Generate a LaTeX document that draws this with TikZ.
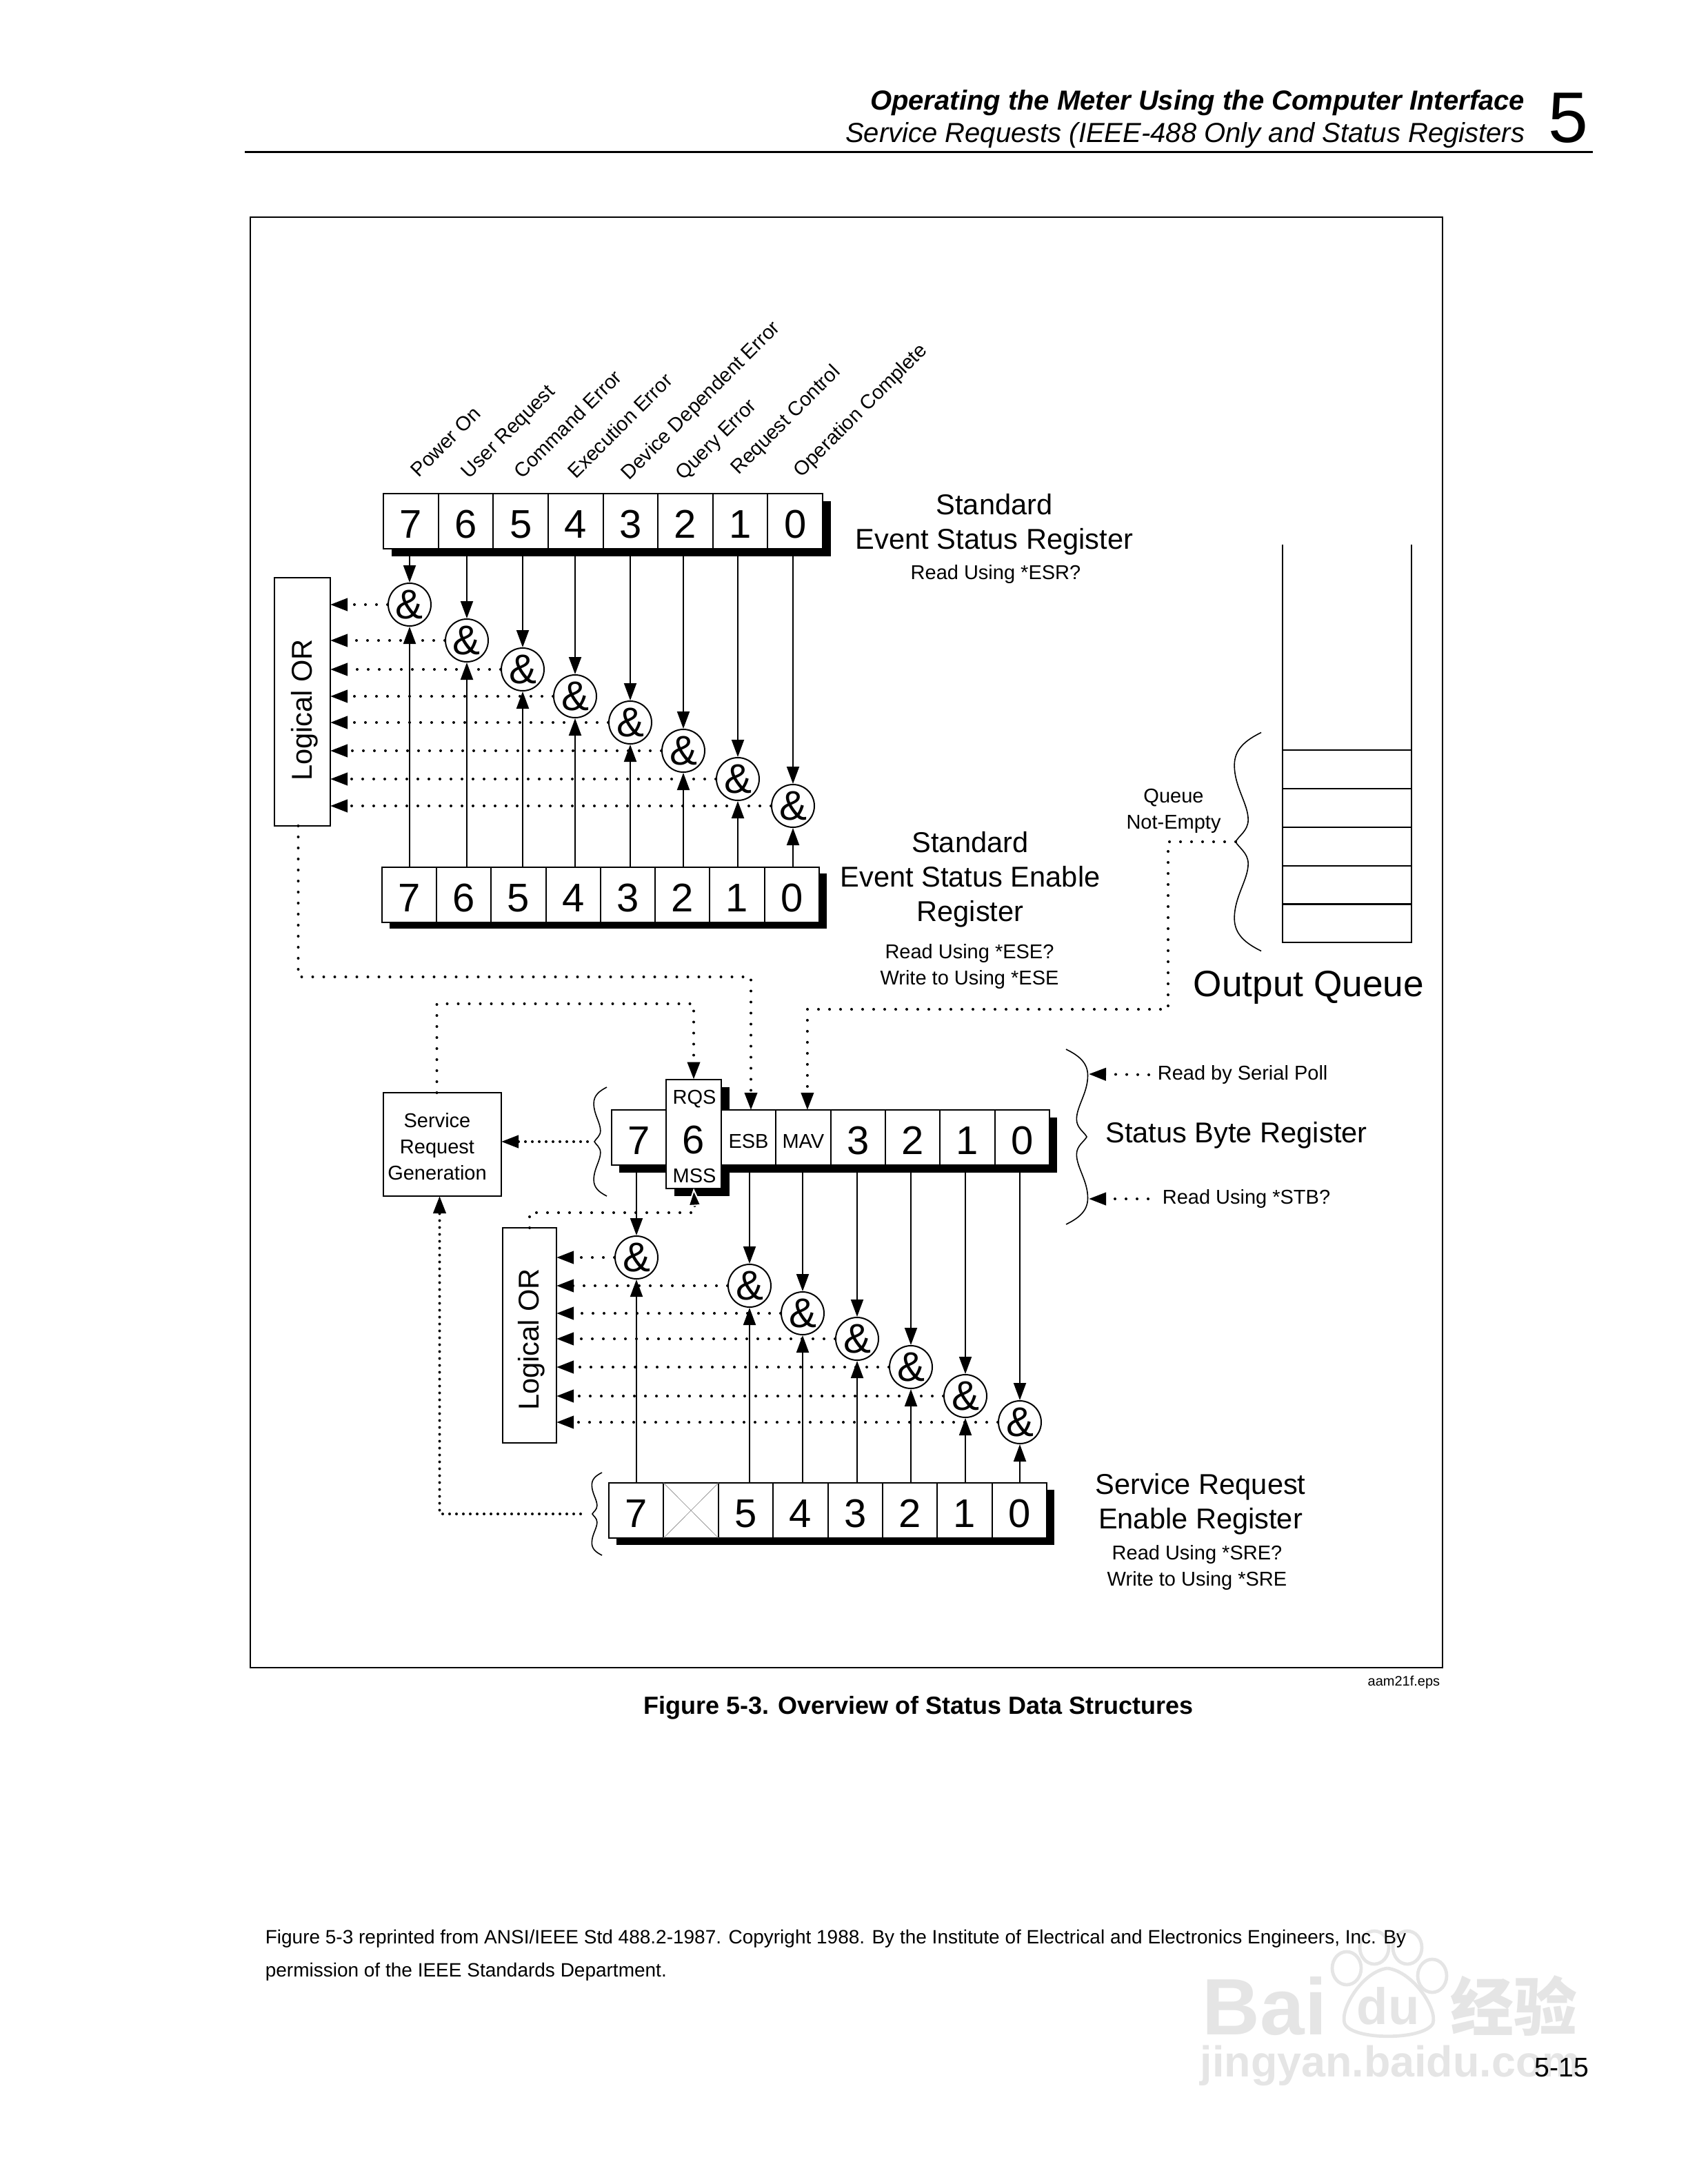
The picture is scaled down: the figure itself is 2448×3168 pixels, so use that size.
\documentclass[tikz,border=0pt]{standalone}
\usepackage{fontspec}
\setmainfont{Liberation Sans}
\newfontfamily\cjkfont{Noto Sans CJK SC}
\usetikzlibrary{positioning, arrows.meta, shapes.geometric, fit, calc, backgrounds}
\tikzset{
  % Register bits
  bitcell/.style={
    draw, rectangle, line width=0.5pt, fill=white,
    minimum width=19.9pt, minimum height=20pt,
    inner sep=0pt, outer sep=0pt, text height=12pt, text depth=0pt,
    font=\fontsize{14.5}{16}\selectfont
  },
  regshadow/.style={
    draw=none, fill=black, inner sep=0pt, outer sep=0pt
  },
  % AND gates
  andgate/.style={
    draw, circle, line width=0.5pt, fill=white,
    minimum size=15.5pt, inner sep=0pt,
    font=\fontsize{15}{16}\selectfont
  },
  % Boxes
  orbox/.style={
    draw, rectangle, line width=0.5pt, fill=white,
    inner sep=0pt, outer sep=0pt
  },
  queuecell/.style={
    draw, rectangle, line width=0.5pt,
    minimum width=46.75pt, minimum height=14pt,
    inner sep=0pt, outer sep=0pt
  },
  % Solid and dotted connectors
  sigline/.style={
    -{Triangle[length=6.25pt,width=4.5pt]}, line width=0.5pt
  },
  dotline/.style={
    -{Triangle[length=6.25pt,width=4.5pt]}, line width=1pt,
    line cap=round, dash pattern=on 0pt off 4pt
  },
  densedot/.style={
    dotline, dash pattern=on 0pt off 2.5pt
  },
  halotip/.style={
    -{Triangle[length=6.5pt,width=5pt,fill=black,color=white,line width=0.5pt]}
  },
  bracelin/.style={line width=0.4pt},
  % Texts
  smalltext/.style={align=center, inner sep=0pt, font=\fontsize{7.25}{9.5}\selectfont},
  bigtext/.style={align=center, inner sep=0pt, font=\fontsize{10.4}{12.5}\selectfont},
  slanted/.style={smalltext, rotate=45, anchor=base west},
  watermark/.style={inner sep=0pt, text=black!10, font=\bfseries},
}
\newcommand{\smallbit}[1]{\raisebox{2.15pt}{\fontsize{7.25}{9}\selectfont #1}}
\newcommand{\bitrow}[5]{%
  \foreach \bit/\txt [count=\i from 0] in {#5} {
    \node[bitcell] (#1\bit) at ({#2+\i*#4},#3) {\txt};
  }
}
\newcommand{\andlinks}[4]{%
  \draw[sigline] (#1 |- #2.south) -- (#1);
  \draw[sigline] (#1 |- #3.north) -- (#1);
  \draw[dotline] (#1) -- (#1 -| #4.east);
}
\newcommand{\wavybrace}[4]{%
  \begin{scope}[shift={(#2)}, xscale=#3, yscale=#4]
    \draw[bracelin] (1,-1) .. controls (.4,-.93) and (-.05,-.85) .. (-.05,-.7)
      .. controls (-.05,-.5) and (.49,-.35) .. (.49,-.2)
      .. controls (.49,-.1) and (.1,-.05) .. (0,0)
      .. controls (.1,.05) and (.49,.1) .. (.49,.2)
      .. controls (.49,.35) and (-.05,.5) .. (-.05,.7)
      .. controls (-.05,.85) and (.4,.93) .. (1,1);
    \coordinate (#1) at (0,0);
  \end{scope}
}

\begin{document}
\begin{tikzpicture}[x=0.25pt, y=-0.25pt]
  \useasboundingbox (0,0) rectangle (2448,3168);

  %% ── Watermark ──
  \node[watermark, font=\bfseries\fontsize{29}{30}\selectfont, anchor=base west] (wmbai) at (1743,2951) {Bai};
  \node[watermark, font=\bfseries\fontsize{18.6}{20}\selectfont, anchor=base west] (wmdu) at (1967,2936) {du};
  \node[watermark, font=\cjkfont\bfseries\fontsize{23}{24}\selectfont] (wmcjk) at (2195,2909) {经验};
  \node[watermark, font=\bfseries\fontsize{15.7}{18}\selectfont, anchor=base west] (wmurl) at (1740,3012) {jingyan.baidu.com};
  \draw[black!10, line width=1.2pt] (1953,2855) ellipse (21 and 24) (1993,2825) ellipse (21 and 24)
    (2041,2825) ellipse (21 and 24) (2077,2866) ellipse (21 and 24);
  \draw[black!10, line width=1.2pt] (2012,2855) .. controls (1975,2860) and (1943,2915) .. (1950,2935)
    .. controls (1960,2960) and (2065,2960) .. (2078,2935) .. controls (2085,2915) and (2050,2860) .. (2012,2855);

  %% ── Page header and frame ──
  \node[anchor=base east, inner sep=0pt, font=\bfseries\itshape\fontsize{10}{12}\selectfont] (headA) at (2212,160) {Operating the Meter Using the Computer Interface};
  \node[anchor=base east, inner sep=0pt, font=\itshape\fontsize{10}{12}\selectfont] (headB) at (2212,207) {Service Requests (IEEE-488 Only and Status Registers};
  \node[anchor=base, inner sep=0pt, font=\fontsize{26}{28}\selectfont] (chapter) at (2274,207) {5};
  \draw[line width=0.75pt] (355,221) -- (2310,221);
  \draw[line width=0.65pt] (363,315) rectangle (2092,2419);

  %% ── Registers ──
  \bitrow{esr}{596}{756}{79.6}{7/7,6/6,5/5,4/4,3/3,2/2,1/1,0/0}
  \bitrow{ese}{593.6}{1298}{79.25}{7/7,6/6,5/5,4/4,3/3,2/2,1/1,0/0}
  \bitrow{stb}{926.7}{1650}{79.4}{7/7,6/6,5/\smallbit{ESB},4/\smallbit{MAV},3/3,2/2,1/1,0/0}
  \bitrow{sre}{922.7}{2191}{79.4}{7/7,6/{},5/5,4/4,3/3,2/2,1/1,0/0}
  \node[bitcell, minimum height=39.5pt] (rqs) at (1006,1644.5) {\raisebox{-1.25pt}{6}};
  \begin{scope}[on background layer]
    \node[regshadow, fit=(esr7)(esr0), xshift=3pt, yshift=-2.75pt] (esrshadow) {};
    \node[regshadow, fit=(ese7)(ese0), xshift=2.75pt, yshift=-2.25pt] (eseshadow) {};
    \node[regshadow, fit=(stb7)(stb0), xshift=2.75pt, yshift=-2.75pt] (stbshadow) {};
    \node[regshadow, fit=(sre7)(sre0), xshift=2.75pt, yshift=-2.5pt] (sreshadow) {};
    \node[regshadow, fit=(rqs), xshift=3pt, yshift=-2.75pt] (rqsshadow) {};
  \end{scope}
  \node[smalltext] (rqstxt) at (1007,1594) {RQS};
  \node[smalltext] (msstxt) at (1007,1705) {MSS};
  \draw[line width=0.2pt, black!40] (sre6.north west) -- (sre6.south east) (sre6.south west) -- (sre6.north east);

  %% ── Logical OR boxes ──
  \node[orbox, minimum width=20.25pt, minimum height=90pt] (orA) at (438.5,1018) {};
  \node[bigtext, rotate=90] (orAtxt) at (442,1030) {Logical OR};
  \node[orbox, minimum width=19.5pt, minimum height=78pt] (orB) at (768,1937) {};
  \node[bigtext, rotate=90] (orBtxt) at (771,1943) {Logical OR};
  \node[orbox, minimum width=42.75pt, minimum height=37.5pt] (srg) at (641.5,1660) {};
  \node[smalltext] (srgtxt) at (634,1663) {Service\\Request\\Generation};

  %% ── AND gates ──
  \node[andgate] (esra7) at (594,877) {\&};
  \node[andgate] (esra6) at (677,929) {\&};
  \node[andgate] (esra5) at (758,971) {\&};
  \node[andgate] (esra4) at (834,1010) {\&};
  \node[andgate] (esra3) at (914,1048) {\&};
  \node[andgate] (esra2) at (991,1089) {\&};
  \node[andgate] (esra1) at (1070,1130) {\&};
  \node[andgate] (esra0) at (1150,1169) {\&};
  \node[andgate] (stba7) at (923,1824) {\&};
  \node[andgate] (stba5) at (1087,1865) {\&};
  \node[andgate] (stba4) at (1164,1905) {\&};
  \node[andgate] (stba3) at (1243,1942) {\&};
  \node[andgate] (stba2) at (1321,1983) {\&};
  \node[andgate] (stba1) at (1400,2025) {\&};
  \node[andgate] (stba0) at (1479,2063) {\&};

  \andlinks{esra7}{esr7}{ese7}{orA}
  \andlinks{esra6}{esr6}{ese6}{orA}
  \andlinks{esra5}{esr5}{ese5}{orA}
  \andlinks{esra4}{esr4}{ese4}{orA}
  \andlinks{esra3}{esr3}{ese3}{orA}
  \andlinks{esra2}{esr2}{ese2}{orA}
  \andlinks{esra1}{esr1}{ese1}{orA}
  \andlinks{esra0}{esr0}{ese0}{orA}
  \andlinks{stba7}{stb7}{sre7}{orB}
  \andlinks{stba5}{stb5}{sre5}{orB}
  \andlinks{stba4}{stb4}{sre4}{orB}
  \andlinks{stba3}{stb3}{sre3}{orB}
  \andlinks{stba2}{stb2}{sre2}{orB}
  \andlinks{stba1}{stb1}{sre1}{orB}
  \andlinks{stba0}{stb0}{sre0}{orB}

  %% ── Output queue ──
  \node[queuecell] (qA) at (1953.5,1116) {};
  \node[queuecell] (qB) at (1953.5,1172) {};
  \node[queuecell] (qC) at (1953.5,1228) {};
  \node[queuecell] (qD) at (1953.5,1283.5) {};
  \node[queuecell] (qE) at (1953.5,1339) {};
  \draw[line width=0.5pt] (qA.north west) -- ++(0,-298) (qA.north east) -- ++(0,-298);

  %% ── Braces ──
  \wavybrace{queuetip}{1792,1221}{37}{158.5}
  \wavybrace{stbtip}{862,1656}{18}{79}
  \wavybrace{sretip}{859,2196}{14}{60}
  \wavybrace{readtip}{1576,1649}{-30}{127}

  %% ── Dotted routes ──
  \coordinate (esbbend) at (1089,1417);
  \coordinate (rqsbend) at (1006,1456);
  \coordinate (mavbend) at (1694,1464);
  \coordinate (mssbend) at (1008,1759);
  \draw[dotline] ([xshift=-1.5pt]orA.south) |- (esbbend) -- (esbbend |- stb5.north);
  \draw[dotline] ([xshift=-2pt]srg.north) |- (rqsbend) -- (rqs.north);
  \draw[dotline] (queuetip) -| (mavbend) -| ([xshift=1.5pt]stb4.north);
  \draw[dotline, halotip] (orB.north) |- (mssbend) -- (rqs.south);
  \draw[densedot] ([xshift=-2.5pt]stbtip) -- (srg.east |- stbtip);
  \draw[densedot] ([xshift=-4.25pt]sretip) -| ([xshift=-1pt]srg.south);

  %% ── Labels ──
  \node[slanted] (lblpower) at (607,694) {Power On};
  \node[slanted] (lbluser) at (680,696) {User Request};
  \node[slanted] (lblcmd) at (757,696) {Command Error};
  \node[slanted] (lblexec) at (835,696) {Execution Error};
  \node[slanted] (lbldev) at (912,698) {Device Dependent Error};
  \node[slanted] (lblquery) at (991,698) {Query Error};
  \node[slanted] (lblreq) at (1071,690) {Request Control};
  \node[slanted] (lblop) at (1162,694) {Operation Complete};

  \node[bigtext] (esrtitle) at (1442,761) {Standard\\Event Status Register};
  \node[smalltext] (esrread) at (1444,833) {Read Using *ESR?};
  \node[bigtext] (esetitle) at (1407,1276) {Standard\\Event Status Enable\\Register};
  \node[smalltext] (eseread) at (1406,1402) {Read Using *ESE?\\Write to Using *ESE};
  \node[smalltext] (queuetxt) at (1702,1176) {Queue\\Not-Empty};
  \node[inner sep=0pt, font=\fontsize{13.3}{15}\selectfont] (queuetitle) at (1898,1432) {Output Queue};
  \node[bigtext] (stbtitle) at (1793,1647) {Status Byte Register};
  \node[smalltext, anchor=west] (polltxt) at (1678,1559) {Read by Serial Poll};
  \node[smalltext, anchor=west] (stbread) at (1685,1739) {Read Using *STB?};
  \coordinate (pollpt) at (1579,1558);
  \coordinate (stbpt) at (1579,1739);
  \draw[dotline] ([xshift=-3pt]polltxt.west) -- (pollpt);
  \draw[dotline] ([xshift=-5pt]stbread.west) -- (stbpt);
  \node[bigtext] (sretitle) at (1741,2182) {Service Request\\Enable Register};
  \node[smalltext] (sreread) at (1736,2274) {Read Using *SRE?\\Write to Using *SRE};

  %% ── Caption and footer ──
  \node[anchor=base east, inner sep=0pt, font=\fontsize{5}{6}\selectfont] (epsname) at (2089,2445) {aam21f.eps};
  \node[anchor=base, inner sep=0pt, font=\bfseries\fontsize{9}{12}\selectfont] (caption) at (1332,2486) {Figure 5-3. Overview of Status Data Structures};
  \node[anchor=base west, inner sep=0pt, font=\fontsize{7}{9}\selectfont] (noteA) at (384,2819) {Figure 5-3 reprinted from ANSI/IEEE Std 488.2-1987. Copyright 1988. By the Institute of Electrical and Electronics Engineers, Inc. By};
  \node[anchor=base west, inner sep=0pt, font=\fontsize{7}{9}\selectfont] (noteB) at (384,2867) {permission of the IEEE Standards Department.};
  \node[anchor=base east, inner sep=0pt, font=\fontsize{9.8}{12}\selectfont] (pageno) at (2305,3012) {5-15};
\end{tikzpicture}
\end{document}
